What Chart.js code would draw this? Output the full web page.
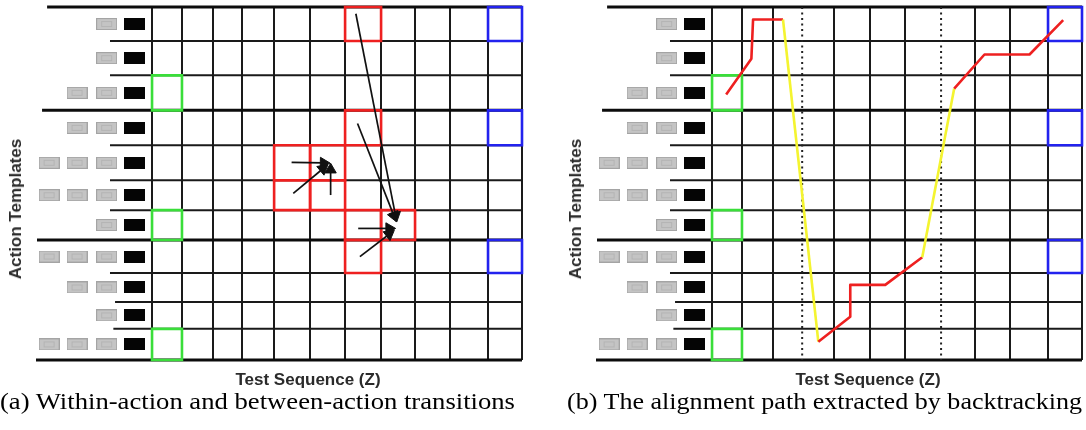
<!DOCTYPE html>
<html><head><meta charset="utf-8">
<script src="https://cdn.jsdelivr.net/npm/chart.js@4"></script>
<style>
html,body{margin:0;padding:0;background:#fff;}
body{width:1086px;height:430px;overflow:hidden;position:relative;}
.pan{position:absolute;top:0;}
.ylab{position:absolute;top:209px;transform:translate(-50%,-50%) rotate(-90deg);white-space:nowrap;font:bold 17px "Liberation Sans",Arial,sans-serif;color:#2b2b2b;}
.xlab{position:absolute;top:380px;transform:translate(-50%,-50%);white-space:nowrap;font:bold 17px "Liberation Sans",Arial,sans-serif;color:#2b2b2b;}
.cap{position:absolute;top:390px;display:inline-block;white-space:nowrap;font:23px/23px "Liberation Serif","Times New Roman",serif;color:#000;transform-origin:0 0;}
</style></head>
<body>
<div class="pan" style="left:0"><canvas id="ca" width="540" height="372"></canvas></div>
<div class="pan" style="left:560px"><canvas id="cb" width="526" height="372"></canvas></div>
<div class="ylab" style="left:16px">Action Templates</div>
<div class="ylab" style="left:576px">Action Templates</div>
<div class="xlab" style="left:308px">Test Sequence (Z)</div>
<div class="xlab" style="left:868px">Test Sequence (Z)</div>
<div class="cap" id="capa" style="left:0px">(a) Within-action and between-action transitions</div>
<div class="cap" id="capb" style="left:567px">(b) The alignment path extracted by backtracking</div>
<script>
// ---- grid structure (column / row boundaries, in cell units) ----
const colEdges = [0, 0.89, 1.81, 2.68, 3.63, 4.70, 5.74, 6.81, 7.82, 8.86, 9.99, 11];
const rowEdges = [0, 1.06, 2.13, 3.22, 4.31, 5.40, 6.33, 7.26, 8.29, 9.19, 10.03, 11];
const rowLineStart = [-3.12, -1.25, -1.25, -3.27, -1.25, -1.25, -1.25, -3.42, -1.25, -1.1, -1.15, -3.45];
const actionBoundaries = [0, 3, 7, 11];
// number of grey frames before the black frame, per template row (top to bottom)
const templateGrays = [1, 1, 2, 2, 3, 3, 1, 3, 2, 1, 3];
// highlighted cells [col,row]
const greenCells = [[0, 2], [0, 6], [0, 10]];
const blueCells = [[10, 0], [10, 3], [10, 7]];
const redCellsA = [[6, 0], [6, 3], [4, 4], [5, 4], [4, 5], [5, 5], [6, 6], [7, 6], [6, 7]];
// transition arrows of panel (a)
const arrowStartX = [4.15, 4.20, 5.31, 6.06, 6.11, 6.13, 6.18];
const arrowStartY = [4.84, 5.81, 5.86, 0.21, 3.63, 6.90, 7.78];
const arrowEndX   = [5.10, 5.08, 5.31, 7.24, 7.19, 7.05, 7.05];
const arrowEndY   = [4.86, 5.04, 5.07, 6.50, 6.50, 6.90, 7.08];
// alignment path of panel (b)
const pathX = [0.42, 1.17, 1.22, 2.11, 3.16, 4.11, 4.11, 5.15, 6.25, 7.20, 8.10, 9.44, 10.44];
const pathY = [2.73, 1.61, 0.39, 0.39, 10.43, 9.65, 8.66, 8.66, 7.80, 2.54, 1.48, 1.48, 0.41];
const betweenActionSegments = [3, 8];
const dottedColEdgesB = [3, 7];

const RED = '#ee2020', GREEN = '#3ade3a', BLUE = '#2222ee', YELLOW = '#f4f430', INK = '#1a1a1a';

function frameImg(fill, stroke) {
  const c = document.createElement('canvas');
  c.width = 21; c.height = 12;
  const g = c.getContext('2d');
  g.fillStyle = fill; g.fillRect(0, 0, 21, 12);
  if (stroke) {
    g.strokeStyle = stroke; g.lineWidth = 1;
    g.strokeRect(0.5, 0.5, 20, 11);
    g.strokeStyle = '#b4b4b4'; g.strokeRect(5.5, 3.5, 10, 5);
  }
  return c;
}
const blackFrame = frameImg('#050505');
const grayFrame = frameImg('#c4c4c4', '#a4a4a4');

function cellBox(c, r, color) {
  const x0 = colEdges[c], x1 = colEdges[c + 1], y0 = rowEdges[r], y1 = rowEdges[r + 1];
  return {type: 'scatter', showLine: true, data: [{x: x0, y: y0}, {x: x1, y: y0}, {x: x1, y: y1}, {x: x0, y: y1}, {x: x0, y: y0}],
    borderColor: color, borderWidth: 2.6, pointRadius: 0, borderCapStyle: 'square', borderJoinStyle: 'miter', clip: false, tension: 0};
}

function build(canvas, panel) {
  const ds = []; // bottom -> top
  rowEdges.forEach((y, i) => {
    const thick = actionBoundaries.includes(i);
    ds.push({showLine: true, data: [{x: rowLineStart[i], y}, {x: 11, y}], borderColor: thick ? '#0c0c0c' : INK,
      borderWidth: thick ? 3 : 2, pointRadius: 0, clip: false});
  });
  if (panel === 'b') {
    dottedColEdgesB.forEach(i => {
      ds.push({showLine: true, data: [{x: colEdges[i], y: 0}, {x: colEdges[i], y: 11}], borderColor: '#222',
        borderWidth: 2, borderDash: [2, 3.5], pointRadius: 0, clip: false});
    });
  }
  const blacks = [], grays = [];
  templateGrays.forEach((n, r) => {
    const yc = (rowEdges[r] + rowEdges[r + 1]) / 2;
    blacks.push({x: -0.52, y: yc});
    const gx = [-1.35, -2.23, -3.06];
    for (let k = 0; k < n; k++) grays.push({x: gx[k], y: yc});
  });
  ds.push({data: blacks, pointStyle: blackFrame, pointRadius: 1, clip: false});
  ds.push({data: grays, pointStyle: grayFrame, pointRadius: 1, clip: false});
  if (panel === 'a') redCellsA.forEach(([c, r]) => ds.push(cellBox(c, r, RED)));
  greenCells.forEach(([c, r]) => ds.push(cellBox(c, r, GREEN)));
  blueCells.forEach(([c, r]) => ds.push(cellBox(c, r, BLUE)));
  if (panel === 'a') {
    arrowStartX.forEach((sx, i) => {
      ds.push({showLine: true, data: [{x: sx, y: arrowStartY[i]}, {x: arrowEndX[i], y: arrowEndY[i]}],
        borderColor: '#111', borderWidth: 1.7, clip: false,
        pointStyle: 'triangle', backgroundColor: '#111', pointBackgroundColor: '#111', pointBorderColor: '#111', pointBorderWidth: 1,
        pointRadius: ctx => ctx.dataIndex === 1 ? 6.5 : 0,
        pointRotation: ctx => {
          const ch = ctx.chart, d = ctx.dataset.data, X = ch.scales.x, Y = ch.scales.y;
          const dx = X.getPixelForValue(d[1].x) - X.getPixelForValue(d[0].x);
          const dy = Y.getPixelForValue(d[1].y) - Y.getPixelForValue(d[0].y);
          return Math.atan2(dx, -dy) * 180 / Math.PI;
        }});
    });
  }
  if (panel === 'b') {
    ds.push({showLine: true, data: pathX.map((x, i) => ({x, y: pathY[i]})), borderColor: RED, borderWidth: 2.6,
      pointRadius: 0, clip: false, borderJoinStyle: 'round',
      segment: {borderColor: ctx => betweenActionSegments.includes(ctx.p0DataIndex) ? YELLOW : RED}});
  }
  new Chart(canvas, {
    type: 'scatter',
    data: {datasets: ds.reverse()},
    options: {
      responsive: false, animation: false, events: [],
      layout: {autoPadding: false, padding: {left: 36, right: canvas.width - 522, top: 7, bottom: 12}},
      plugins: {legend: {display: false}, tooltip: {enabled: false}},
      scales: {
        x: {type: 'linear', min: -3.45, max: 11,
          afterBuildTicks: s => { s.ticks = colEdges.map(v => ({value: v})); },
          ticks: {display: false}, border: {display: false},
          grid: {drawTicks: false, lineWidth: 2,
            color: ctx => (panel === 'b' && dottedColEdgesB.includes(ctx.index)) ? 'rgba(0,0,0,0)' : INK}},
        y: {type: 'linear', min: 0, max: 11, reverse: true, display: false}
      }
    }
  });
}
build(document.getElementById('ca'), 'a');
build(document.getElementById('cb'), 'b');

document.querySelectorAll('.cap').forEach(el => {
  const w = el.getBoundingClientRect().width;
  el.style.transform = 'scaleX(' + (515 / w) + ')';
});
</script>
</body></html>
